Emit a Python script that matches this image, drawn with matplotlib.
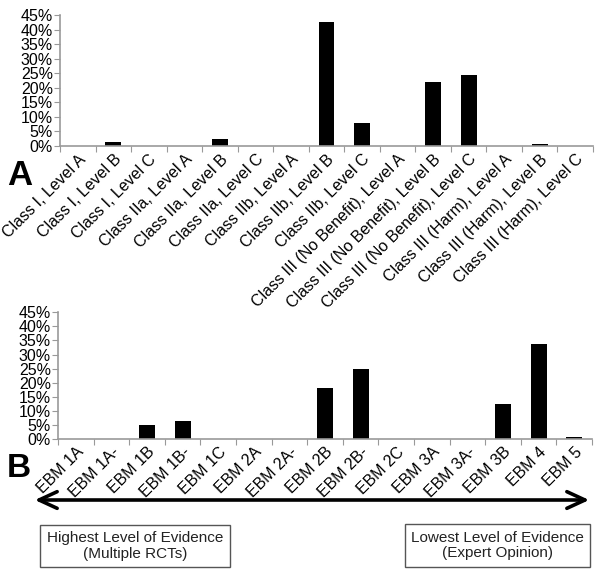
import matplotlib
matplotlib.use("Agg")
import matplotlib.pyplot as plt
import matplotlib.patches as patches
import numpy as np

plt.rcParams['font.family'] = ['Liberation Sans', 'DejaVu Sans']

# Panel A: ACC/AHA class and level of evidence
acc_labels = ['Class I, Level A', 'Class I, Level B', 'Class I, Level C',
              'Class IIa, Level A', 'Class IIa, Level B', 'Class IIa, Level C',
              'Class IIb, Level A', 'Class IIb, Level B', 'Class IIb, Level C',
              'Class III (No Benefit), Level A', 'Class III (No Benefit), Level B',
              'Class III (No Benefit), Level C', 'Class III (Harm), Level A',
              'Class III (Harm), Level B', 'Class III (Harm), Level C']
acc_values = [0, 1.5, 0, 0, 2.5, 0, 0, 42.5, 8.0, 0, 21.9, 24.3, 0, 0.7, 0]

# Panel B: EBM levels
ebm_labels = ['EBM 1A', 'EBM 1A-', 'EBM 1B', 'EBM 1B-', 'EBM 1C', 'EBM 2A',
              'EBM 2A-', 'EBM 2B', 'EBM 2B-', 'EBM 2C', 'EBM 3A', 'EBM 3A-',
              'EBM 3B', 'EBM 4', 'EBM 5']
ebm_values = [0, 0, 5.0, 6.4, 0, 0, 0, 18.0, 24.9, 0, 0, 0, 12.5, 33.6, 0.8]

yticks = [0, 5, 10, 15, 20, 25, 30, 35, 40, 45]

W, H = 601, 575
fig = plt.figure(figsize=(W / 100, H / 100), dpi=100)


def style_axes(ax, labels, values, fs):
    n = len(values)
    x = np.arange(n)
    ax.bar(x, values, width=0.45, color='black')
    ax.set_xlim(-0.5, n - 0.5)
    ax.set_ylim(0, 45)
    ax.set_yticks(yticks)
    ax.set_yticklabels(['%d%%' % v for v in yticks], fontsize=fs)
    ax.set_xticks(np.arange(n + 1) - 0.5)
    ax.set_xticklabels([])
    ax.set_xticks(x, minor=True)
    ax.set_xticklabels(labels, minor=True, rotation=45, ha='right', va='top',
                       rotation_mode='anchor', fontsize=fs)
    ax.tick_params(axis='x', which='minor', length=0, pad=4)
    ax.tick_params(axis='x', which='major', length=4, color='#999999', direction='out')
    ax.tick_params(axis='y', length=4, color='#999999', pad=1)
    for s in ['top', 'right']:
        ax.spines[s].set_visible(False)
    for s in ['left', 'bottom']:
        ax.spines[s].set_color('#999999')
        ax.spines[s].set_linewidth(1.2)


axA = fig.add_axes([60 / W, 1 - 146 / H, 533 / W, 131 / H])
style_axes(axA, acc_labels, acc_values, 11.5)

axB = fig.add_axes([58 / W, 1 - 439 / H, 534 / W, 126.7 / H])
style_axes(axB, ebm_labels, ebm_values, 11.5)

# panel letters
fig.text(7 / W, 1 - 185 / H, 'A', fontsize=25, fontweight='bold', va='baseline')
fig.text(7 / W, 1 - 477 / H, 'B', fontsize=24, fontweight='bold', va='baseline')

# evidence arrow
arrow = patches.FancyArrowPatch((32 / W, 1 - 500 / H), (592 / W, 1 - 500 / H),
                                transform=fig.transFigure,
                                arrowstyle='<->,head_length=13,head_width=6',
                                mutation_scale=1, lw=2.6, color='black')
fig.patches.append(arrow)

# boxes
for (x0, x1, y0, y1, txt) in [(40, 230, 525, 567, 'Highest Level of Evidence\n(Multiple RCTs)'),
                              (405, 590, 524, 567, 'Lowest Level of Evidence\n(Expert Opinion)')]:
    rect = patches.Rectangle((x0 / W, 1 - y1 / H), (x1 - x0) / W, (y1 - y0) / H,
                             transform=fig.transFigure, fill=False,
                             edgecolor='#555555', lw=1)
    fig.patches.append(rect)
    fig.text((x0 + x1) / 2 / W, 1 - (y0 + y1) / 2 / H, txt, ha='center', va='center',
             fontsize=11, linespacing=1.15, color='#222222')

fig.savefig('out.png', dpi=100)
